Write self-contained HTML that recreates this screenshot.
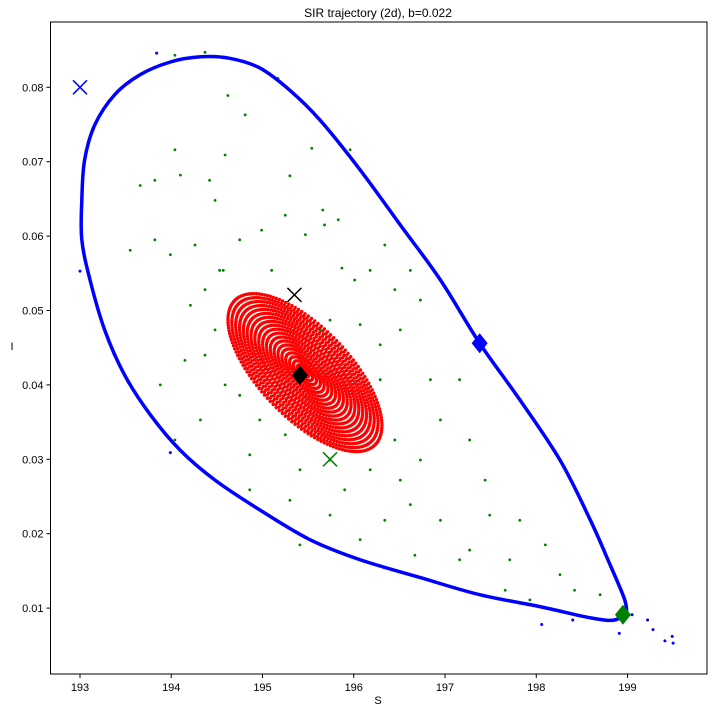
<!DOCTYPE html>
<html><head><meta charset="utf-8"><style>
body{margin:0;background:#fff;}
svg{display:block;font-family:"Liberation Sans","DejaVu Sans",sans-serif;}
</style></head><body>
<svg id="chart" width="712" height="712">
<rect x="0" y="0" width="712" height="712" fill="#fff"/>
<text x="378" y="17" text-anchor="middle" font-size="12">SIR trajectory (2d), b=0.022</text>
<text x="378" y="704" text-anchor="middle" font-size="11">S</text>
<text x="12" y="350" text-anchor="middle" font-size="11">I</text>
<g id="marks"></g>
<g id="axes"></g>
</svg>
<script>
const xTicks=[193,194,195,196,197,198,199];
const yTicks=[0.01,0.02,0.03,0.04,0.05,0.06,0.07,0.08];
const yTickLabels=["0.01","0.02","0.03","0.04","0.05","0.06","0.07","0.08"];
const blueS=[198.99,198.97,198.81,198.59,198.26,197.82,197.38,196.95,196.51,196.07,195.63,195.30,194.97,194.64,194.32,193.99,193.66,193.38,193.16,193.05,193.02,193.02,193.11,193.27,193.49,193.77,194.10,194.48,194.97,195.52,196.07,196.73,197.38,198.04,198.59,198.86,198.97];
const blueI=[0.0091,0.0111,0.0158,0.0219,0.0299,0.0380,0.0456,0.0541,0.0615,0.0689,0.0756,0.0796,0.0826,0.0839,0.0841,0.0834,0.0817,0.0790,0.0749,0.0702,0.0649,0.0595,0.0541,0.0474,0.0413,0.0360,0.0312,0.0272,0.0232,0.0192,0.0165,0.0141,0.0118,0.0102,0.0087,0.0084,0.0095];
const blueStrayS=[199.28,199.41,199.49,199.50,199.22,199.05,198.91,198.06,198.40,193.0,193.99,193.84];
const blueStrayI=[0.0071,0.0056,0.0062,0.0053,0.0084,0.0091,0.0066,0.0078,0.0084,0.0553,0.0309,0.0846];
const greenS=[194.04,194.37,195.17,195.30,195.54,195.96,195.66,195.83,194.62,194.81,194.59,194.42,194.48,194.10,194.04,193.82,193.66,193.55,193.82,193.99,194.26,194.53,194.75,194.99,195.25,195.47,195.68,195.87,196.01,196.18,196.34,196.45,196.62,196.73,196.51,196.29,196.07,195.74,194.48,194.37,194.21,194.15,193.88,194.37,194.59,194.75,194.97,195.25,194.32,194.04,194.86,195.41,195.74,195.90,196.18,196.45,196.51,196.62,196.73,196.95,196.84,197.16,197.27,197.44,197.49,197.27,196.95,197.16,197.71,197.82,198.10,198.26,198.42,198.70,197.66,197.93,196.34,195.74,195.30,194.86,194.57,195.10,195.63,196.29,195.41,196.07,196.67];
const greenI=[0.0843,0.0847,0.0812,0.0681,0.0718,0.0716,0.0635,0.0622,0.0789,0.0763,0.0709,0.0675,0.0648,0.0682,0.0716,0.0675,0.0668,0.0581,0.0595,0.0575,0.0588,0.0554,0.0595,0.0608,0.0628,0.0602,0.0615,0.0557,0.0541,0.0554,0.0588,0.0528,0.0554,0.0514,0.0474,0.0454,0.0481,0.0487,0.0474,0.0528,0.0507,0.0433,0.0400,0.0440,0.0400,0.0386,0.0353,0.0333,0.0353,0.0326,0.0306,0.0286,0.0299,0.0259,0.0286,0.0326,0.0272,0.0239,0.0299,0.0353,0.0407,0.0407,0.0326,0.0272,0.0225,0.0178,0.0218,0.0165,0.0165,0.0218,0.0185,0.0145,0.0124,0.0118,0.0124,0.0111,0.0218,0.0225,0.0245,0.0259,0.0554,0.0554,0.0474,0.0407,0.0185,0.0192,0.0171];
const redAxisS=[194.70,196.23];
const redAxisI=[0.0514,0.0319];
const redMinorHalfPx=45;
const markersS=[193.0,195.35,195.74,197.38,198.95,195.41];
const markersI=[0.080,0.0521,0.030,0.0456,0.0091,0.0413];

const L=50.5,R=707,T=22,B=674;
const xs=s=>80+(s-193)*91.25;
const ys=i=>87.3+(0.08-i)*7440;
const NS="http://www.w3.org/2000/svg";
const marks=document.getElementById('marks'),axes=document.getElementById('axes');
function mk(tag,attrs,parent){const e=document.createElementNS(NS,tag);for(const k in attrs)e.setAttribute(k,attrs[k]);parent.appendChild(e);return e;}

const ax1=xs(redAxisS[0]),ay1=ys(redAxisI[0]),ax2=xs(redAxisS[1]),ay2=ys(redAxisI[1]);
const cx=(ax1+ax2)/2,cy=(ay1+ay2)/2,a=Math.hypot(ax2-ax1,ay2-ay1)/2,ang=Math.atan2(ay2-ay1,ax2-ax1);
const redG=mk('g',{},marks);


for(let r=1;r>0.03;r-=0.05){
  const n=Math.round(140*r)+8;
  for(let k=0;k<n;k++){
    const t=k/n*2*Math.PI+r*5;
    const ex=a*r*Math.cos(t),ey=redMinorHalfPx*r*Math.sin(t);
    const px=cx+ex*Math.cos(ang)-ey*Math.sin(ang),py=cy+ex*Math.sin(ang)+ey*Math.cos(ang);
    const c=mk('circle',{cx:px,cy:py,r:1.7,fill:'#ff0000'},redG);
    
    
  }
}
const gG=mk('g',{},marks);


greenS.forEach((s,i)=>{
  const c=mk('circle',{cx:xs(s),cy:ys(greenI[i]),r:1.4,fill:'#008000'},gG);
  
  
});
const pts=blueS.map((s,i)=>[xs(s),ys(blueI[i])]);
let d='M'+pts[0][0]+','+pts[0][1];
for(let i=0;i<pts.length-1;i++){
  const p0=pts[Math.max(0,i-1)],p1=pts[i],p2=pts[i+1],p3=pts[Math.min(pts.length-1,i+2)];
  d+=' C'+(p1[0]+(p2[0]-p0[0])/6)+','+(p1[1]+(p2[1]-p0[1])/6)+' '+(p2[0]-(p3[0]-p1[0])/6)+','+(p2[1]-(p3[1]-p1[1])/6)+' '+p2[0]+','+p2[1];
}
const bl=mk('path',{d:d,fill:'none',stroke:'#0000ff','stroke-width':3.5},marks);


blueStrayS.forEach((s,i)=>{
  const c=mk('circle',{cx:xs(s),cy:ys(blueStrayI[i]),r:1.5,fill:'#0000ff'},marks);
  
  
});
const mColors=['#0000ff','#000000','#008000','#0000ff','#008000','#000000'];
const mTypes=['x','x','x','d','d','d'];
const mNames=['blue-start-marker','black-start-marker','green-start-marker','blue-end-marker','green-end-marker','black-end-marker'];
markersS.forEach((s,i)=>{
  const x=xs(s),y=ys(markersI[i]);let e;
  if(mTypes[i]==='x'){e=mk('path',{d:`M${x-7},${y-7}L${x+7},${y+7}M${x-7},${y+7}L${x+7},${y-7}`,stroke:mColors[i],'stroke-width':1.5,fill:'none'},marks);}
  else{e=mk('path',{d:`M${x},${y-10}L${x+8},${y}L${x},${y+10}L${x-8},${y}Z`,fill:mColors[i]},marks);}
  
  
});
const fr=mk('rect',{x:L,y:T,width:R-L,height:B-T,fill:'none',stroke:'#000','stroke-width':1},axes);


xTicks.forEach(v=>{
  const x=xs(v);
  const l=mk('line',{x1:x,x2:x,y1:B,y2:B+4,stroke:'#000'},axes);
  
  
  const t=mk('text',{x:x,y:B+17,'text-anchor':'middle','font-size':11},axes);t.textContent=v;
  
  
});
yTicks.forEach((v,i)=>{
  const y=ys(v);
  const l=mk('line',{x1:L-4,x2:L,y1:y,y2:y,stroke:'#000'},axes);
  
  
  const t=mk('text',{x:L-7,y:y+4,'text-anchor':'end','font-size':11},axes);t.textContent=yTickLabels[i];
  
  
});
</script>
</body></html>
